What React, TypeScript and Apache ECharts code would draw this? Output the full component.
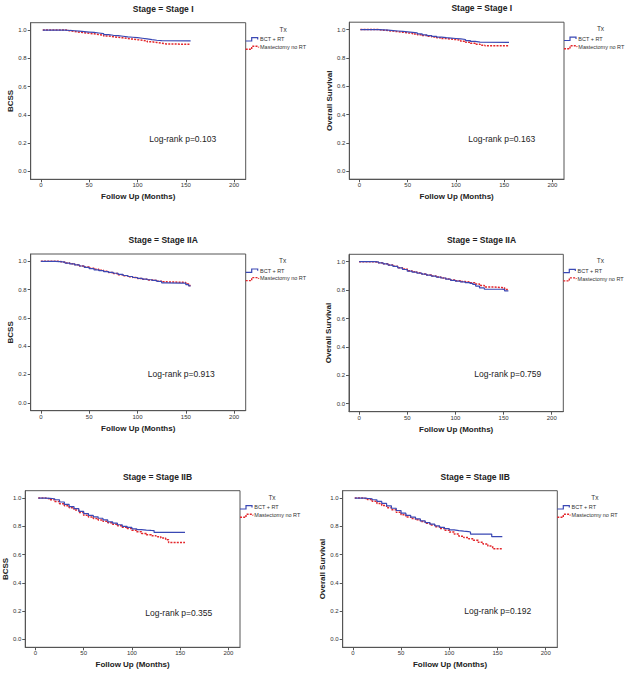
import React, { useEffect, useRef } from "react";
import * as echarts from "echarts";

const xTicks = [0, 50, 100, 150, 200];
const yTicks = [0, 0.2, 0.4, 0.6, 0.8, 1.0];
const treatments = ["BCT + RT", "Mastectomy no RT"];
const stages = ["Stage I", "Stage I", "Stage IIA", "Stage IIA", "Stage IIB", "Stage IIB"];
const endpoints = ["BCSS", "Overall Survival", "BCSS", "Overall Survival", "BCSS", "Overall Survival"];
const pValues = ["0.103", "0.163", "0.913", "0.759", "0.355", "0.192"];

// [month, survival]
const stageIBcssBct = [[2,1],[20,1],[25,0.997],[30,0.995],[35,0.992],[40,0.989],[45,0.986],[50,0.983],[55,0.979],[60,0.975],[65,0.968],[70,0.963],[75,0.96],[80,0.956],[85,0.952],[90,0.949],[95,0.946],[100,0.942],[105,0.937],[110,0.932],[115,0.928],[120,0.925],[125,0.924],[155,0.924]];
const stageIBcssMast = [[2,1],[22,1],[26,0.995],[30,0.99],[35,0.985],[40,0.981],[45,0.977],[50,0.973],[55,0.968],[60,0.964],[65,0.958],[70,0.953],[75,0.949],[80,0.945],[85,0.94],[90,0.936],[95,0.932],[100,0.928],[105,0.923],[110,0.917],[115,0.912],[120,0.907],[125,0.902],[130,0.899],[155,0.899]];
const stageIOsBct = [[1,1],[15,1],[20,0.998],[25,0.996],[30,0.993],[35,0.99],[40,0.987],[45,0.984],[50,0.98],[55,0.976],[60,0.97],[65,0.963],[70,0.957],[75,0.952],[80,0.947],[85,0.943],[90,0.94],[95,0.937],[100,0.934],[105,0.93],[110,0.922],[115,0.916],[120,0.912],[125,0.909],[155,0.908]];
const stageIOsMast = [[1,1],[15,1],[20,0.996],[25,0.993],[30,0.989],[35,0.985],[40,0.981],[45,0.977],[50,0.973],[55,0.968],[60,0.963],[65,0.958],[70,0.952],[75,0.947],[80,0.942],[85,0.937],[90,0.933],[95,0.929],[100,0.925],[105,0.918],[110,0.91],[115,0.903],[120,0.896],[125,0.89],[130,0.885],[155,0.882]];
const stageIIaBcssBct = [[0,1],[12,1],[15,0.998],[20,0.994],[25,0.988],[30,0.982],[35,0.975],[40,0.967],[45,0.958],[50,0.948],[55,0.94],[60,0.934],[65,0.928],[70,0.922],[75,0.916],[80,0.908],[85,0.9],[90,0.893],[95,0.886],[100,0.88],[105,0.875],[110,0.87],[115,0.865],[120,0.858],[125,0.848],[130,0.846],[145,0.846],[150,0.835],[153,0.826],[155,0.826]];
const stageIIaBcssMast = [[0,1],[14,1],[18,0.997],[22,0.993],[26,0.988],[30,0.983],[35,0.976],[40,0.967],[45,0.96],[50,0.951],[55,0.944],[60,0.937],[65,0.93],[70,0.922],[75,0.914],[80,0.906],[85,0.899],[90,0.892],[95,0.885],[100,0.879],[105,0.874],[110,0.869],[115,0.865],[120,0.86],[125,0.855],[130,0.852],[147,0.85],[150,0.84],[153,0.83],[155,0.83]];
const stageIIaOsBct = [[0,1],[12,1],[15,0.998],[20,0.992],[25,0.984],[30,0.976],[35,0.967],[40,0.957],[45,0.945],[50,0.933],[55,0.926],[60,0.92],[65,0.913],[70,0.905],[75,0.898],[80,0.892],[85,0.885],[90,0.877],[95,0.869],[100,0.863],[105,0.858],[110,0.853],[115,0.848],[118,0.84],[121,0.828],[125,0.815],[130,0.806],[148,0.805],[151,0.795],[155,0.795]];
const stageIIaOsMast = [[0,1],[12,1],[15,0.998],[20,0.993],[25,0.985],[30,0.977],[35,0.968],[40,0.958],[45,0.948],[50,0.937],[55,0.929],[60,0.922],[65,0.914],[70,0.907],[75,0.9],[80,0.893],[85,0.886],[90,0.878],[95,0.871],[100,0.865],[105,0.86],[110,0.856],[115,0.851],[120,0.843],[125,0.832],[130,0.822],[140,0.818],[148,0.816],[151,0.805],[155,0.8]];
const stageIIbBcssBct = [[3,1],[10,0.998],[15,0.995],[20,0.988],[25,0.972],[30,0.955],[35,0.94],[40,0.925],[45,0.906],[50,0.89],[55,0.877],[60,0.867],[65,0.857],[70,0.845],[75,0.832],[80,0.822],[85,0.811],[90,0.8],[95,0.792],[100,0.782],[105,0.776],[110,0.773],[115,0.771],[120,0.77],[123,0.757],[155,0.757]];
const stageIIbBcssMast = [[3,1],[10,0.995],[15,0.988],[20,0.975],[25,0.96],[30,0.945],[35,0.932],[40,0.916],[45,0.898],[50,0.878],[55,0.866],[60,0.856],[65,0.845],[70,0.835],[75,0.825],[80,0.815],[85,0.804],[90,0.794],[95,0.784],[100,0.773],[105,0.762],[110,0.75],[115,0.74],[120,0.733],[125,0.727],[130,0.717],[135,0.705],[138,0.685],[155,0.683]];
const stageIIbOsBct = [[2,1],[12,0.998],[15,0.995],[20,0.988],[25,0.976],[30,0.962],[35,0.945],[40,0.928],[45,0.912],[50,0.893],[55,0.877],[60,0.865],[65,0.852],[70,0.838],[75,0.826],[80,0.815],[85,0.803],[90,0.793],[95,0.783],[100,0.775],[105,0.77],[110,0.766],[115,0.763],[120,0.759],[122,0.745],[143,0.745],[144,0.727],[155,0.727]];
const stageIIbOsMast = [[2,1],[10,0.997],[15,0.99],[20,0.978],[25,0.962],[30,0.948],[35,0.932],[40,0.917],[45,0.9],[50,0.882],[55,0.866],[60,0.856],[65,0.846],[70,0.834],[75,0.822],[80,0.81],[85,0.797],[90,0.785],[95,0.772],[100,0.759],[105,0.745],[110,0.73],[115,0.72],[120,0.712],[125,0.702],[130,0.688],[135,0.675],[140,0.66],[145,0.642],[155,0.64]];

const curves = [
  [stageIBcssBct, stageIBcssMast],
  [stageIOsBct, stageIOsMast],
  [stageIIaBcssBct, stageIIaBcssMast],
  [stageIIaOsBct, stageIIaOsMast],
  [stageIIbBcssBct, stageIIbBcssMast],
  [stageIIbOsBct, stageIIbOsMast],
];

// layout: plot box [left, top, width, height], log-rank text offset, Tx offset
const boxes = [
  [30.7, 22.7, 215, 156.6],
  [349.3, 22.2, 214.7, 157],
  [30.7, 254, 215, 156.7],
  [349, 254.3, 214.3, 157.4],
  [25, 490.7, 215, 156.6],
  [342.7, 490.7, 214.6, 156.6],
];
const logRankOffsets = [
  [152, 116.3],
  [152.4, 116.3],
  [150.6, 120.3],
  [158.8, 120],
  [153.8, 122],
  [155.1, 120],
];
const txOffsets = [37.5, 36.5, 37, 37, 32, 37.5];

const BLUE = "#3a48b4";
const RED = "#e3262b";
const FONT = "Liberation Sans, Arial, sans-serif";

export default function App() {
  const ref = useRef<HTMLDivElement>(null);
  useEffect(() => {
    if (!ref.current) return;
    const chart = echarts.init(ref.current, undefined, { renderer: "svg" });
    const grid: any[] = [];
    const xAxis: any[] = [];
    const yAxis: any[] = [];
    const series: any[] = [];
    const graphic: any[] = [];
    boxes.forEach((b, i) => {
      const [L, T, W, H] = b;
      grid.push({ left: L, top: T, width: W, height: H, show: true, borderColor: "#555", borderWidth: 1, backgroundColor: "transparent" });
      xAxis.push({
        type: "value", gridIndex: i, min: -10.5, max: 212,
        axisLine: { show: true, onZero: false, lineStyle: { color: "#555", width: 1 } },
        axisTick: { show: true, customValues: xTicks, length: 3, lineStyle: { color: "#555" } },
        axisLabel: { customValues: xTicks, fontSize: 6, margin: 3, color: "#333", fontFamily: FONT },
        splitLine: { show: false },
        name: "Follow Up (Months)", nameLocation: "middle", nameGap: 13.5,
        nameTextStyle: { fontSize: 8, fontWeight: "bold", color: "#222", fontFamily: FONT },
      });
      yAxis.push({
        type: "value", gridIndex: i, min: -0.056, max: 1.052,
        axisLine: { show: true, onZero: false, lineStyle: { color: "#555", width: 1 } },
        axisTick: { show: true, customValues: yTicks, length: 3, lineStyle: { color: "#555" } },
        axisLabel: { customValues: yTicks, fontSize: 6, margin: 4, color: "#333", fontFamily: FONT, formatter: (v: number) => v.toFixed(1) },
        splitLine: { show: false },
        name: endpoints[i], nameLocation: "middle", nameGap: 14,
        nameTextStyle: { fontSize: 8, fontWeight: "bold", color: "#222", fontFamily: FONT },
      });
      series.push({
        type: "line", name: treatments[1], xAxisIndex: i, yAxisIndex: i, step: "end",
        data: curves[i][1], symbol: "none", showSymbol: false,
        lineStyle: { color: RED, width: 1.5, type: [2, 1.2] }, z: 2,
      });
      series.push({
        type: "line", name: treatments[0], xAxisIndex: i, yAxisIndex: i, step: "end",
        data: curves[i][0], symbol: "none", showSymbol: false,
        lineStyle: { color: BLUE, width: 1.2 }, z: 3,
      });
      const R = L + W;
      graphic.push({
        type: "text", x: L + 132.5, y: T - 14,
        style: { text: "Stage = " + stages[i], fontSize: 8.5, fontWeight: "bold", fontFamily: FONT, fill: "#222", textAlign: "center", textVerticalAlign: "middle" },
      });
      graphic.push({
        type: "text", x: L + logRankOffsets[i][0], y: T + logRankOffsets[i][1],
        style: { text: "Log-rank p=" + pValues[i], fontSize: 8.5, fontFamily: FONT, fill: "#222", textAlign: "center", textVerticalAlign: "middle" },
      });
      graphic.push({
        type: "text", x: R + txOffsets[i], y: T + 6.5,
        style: { text: "Tx", fontSize: 6.5, fontFamily: FONT, fill: "#333", textAlign: "center", textVerticalAlign: "middle" },
      });
      graphic.push({
        type: "polyline",
        shape: { points: [[R, T + 18.3], [R + 6, T + 18.3], [R + 6, T + 15], [R + 12, T + 15], [R + 12, T + 16.8]] },
        style: { stroke: BLUE, lineWidth: 1.2, fill: "none" },
      });
      graphic.push({
        type: "polyline",
        shape: { points: [[R, T + 26.6], [R + 6, T + 26.6], [R + 6, T + 23.6], [R + 12.5, T + 23.6], [R + 13, T + 24.8]] },
        style: { stroke: RED, lineWidth: 1.4, lineDash: [2, 1.2], fill: "none" },
      });
      graphic.push({
        type: "text", x: R + 14.3, y: T + 16.6,
        style: { text: treatments[0], fontSize: 5.5, fontFamily: FONT, fill: "#333", textAlign: "left", textVerticalAlign: "middle" },
      });
      graphic.push({
        type: "text", x: R + 14.3, y: T + 24.4,
        style: { text: treatments[1], fontSize: 5.5, fontFamily: FONT, fill: "#333", textAlign: "left", textVerticalAlign: "middle" },
      });
    });
    chart.setOption({
      animation: false,
      backgroundColor: "#fff",
      textStyle: { fontFamily: FONT },
      grid, xAxis, yAxis, series, graphic,
    });
    return () => chart.dispose();
  }, []);
  return <div ref={ref} style={{ position: "absolute", left: 0, top: 0, width: 629, height: 673 }} />;
}
